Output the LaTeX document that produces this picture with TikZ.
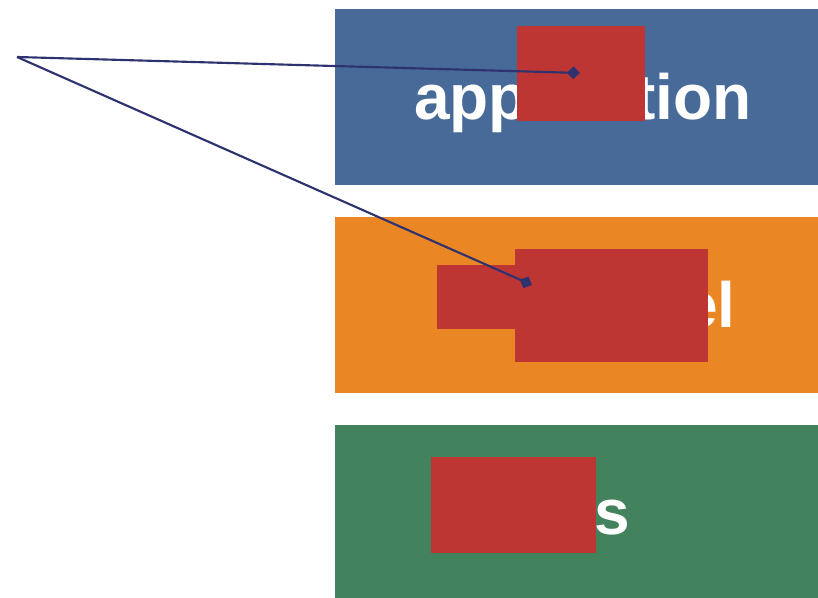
\documentclass[tikz,border=0pt]{standalone}
\usepackage{fontspec}
\setmainfont{Liberation Sans}
\usetikzlibrary{arrows.meta}

\definecolor{bandblue}{HTML}{476A99}
\definecolor{bandorange}{HTML}{EA8623}
\definecolor{bandgreen}{HTML}{42825C}
\definecolor{patchred}{HTML}{BE3634}
\definecolor{pointercol}{HTML}{2E326E}

\tikzset{
  band/.style={shape=rectangle,anchor=north west,inner sep=0pt,minimum width=362.25pt,minimum height=132pt},
  patch/.style={shape=rectangle,fill=patchred,anchor=north west,inner sep=0pt},
  word/.style={text=white,font=\bfseries\fontsize{48}{56}\selectfont,inner sep=0pt},
  pointer/.style={-{Diamond[length=10pt,width=9.5pt,fill=pointercol]},draw=pointercol,line width=1.6pt}
}

\begin{document}
\begin{tikzpicture}[x=0.75pt,y=-0.75pt]
\useasboundingbox (0,0) rectangle (818,598);
\node[band,fill=bandblue] (app) at (335,9) {};
\node[band,fill=bandorange] (kern) at (335,217) {};
\node[band,fill=bandgreen,minimum height=129.75pt] (cpus) at (335,425) {};

\node[word,anchor=base] (apptext) at (583,120) {application};
\node[word,anchor=base east] (kerntext) at (736,328) {OS kernel};
\node[word,anchor=base east] (cpustext) at (630,535) {CPUs};

\node[patch,minimum width=96pt,minimum height=71.25pt] (p1) at (517,26) {};
\node[patch,minimum width=60pt,minimum height=48pt] (p2) at (437,265) {};
\node[patch,minimum width=144.75pt,minimum height=84.75pt] (p3) at (515,249) {};
\node[patch,minimum width=123.75pt,minimum height=72pt] (p4) at (431,457) {};

\coordinate (src) at (17,57);
\coordinate (hit1) at (580,73);
\coordinate (hit2) at (532,285);

\draw [pointer] (src) -- (hit1);
\draw [pointer] (src) -- (hit2);
\end{tikzpicture}
\end{document}
